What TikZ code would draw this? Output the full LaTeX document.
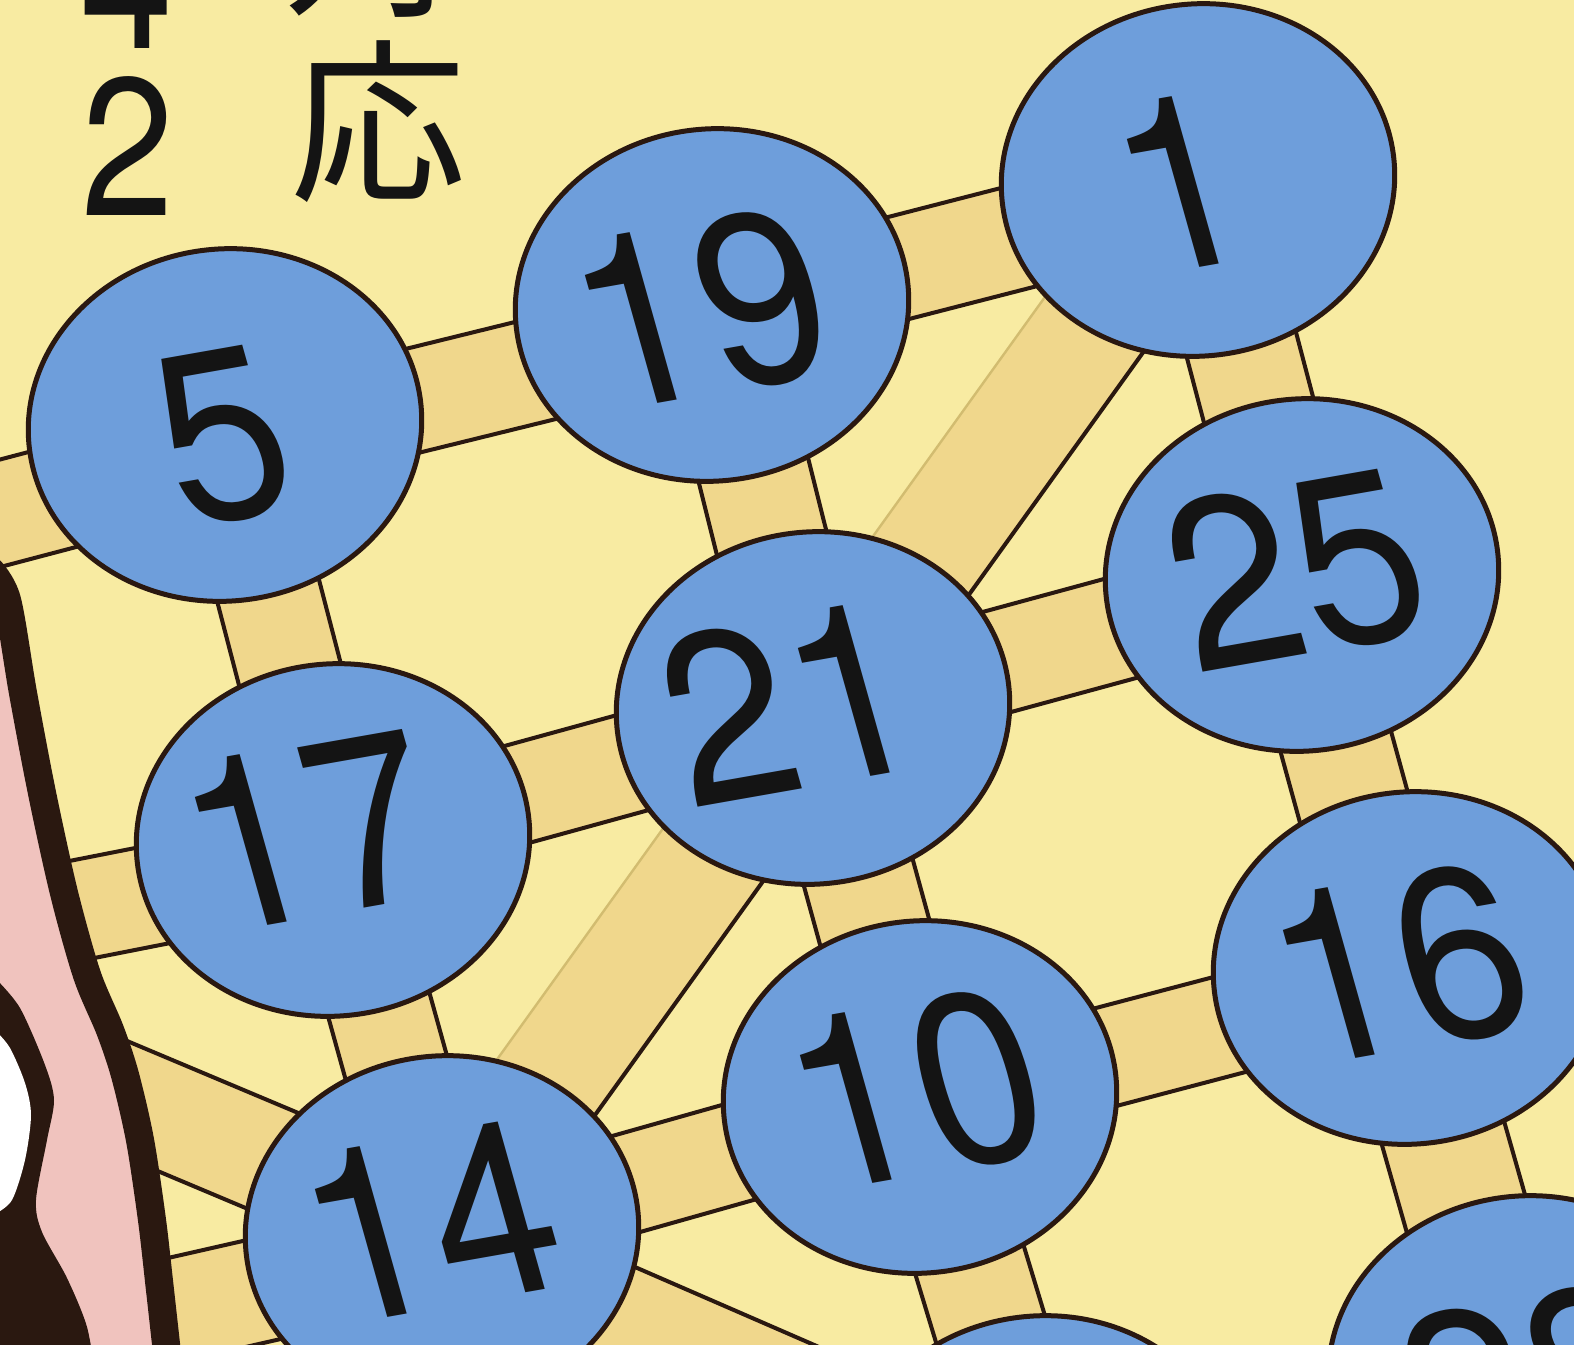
\documentclass[tikz,border=0pt]{standalone}
\usepackage{fontspec}
\newfontfamily\digitfont{TeX Gyre Heros}
\newfontfamily\jpfont{Noto Sans CJK JP}
\usetikzlibrary{calc,shapes.geometric}
\definecolor{bgyellow}{HTML}{F8EBA2}
\definecolor{bandbeige}{HTML}{F0D78C}
\definecolor{discblue}{HTML}{6E9EDB}
\definecolor{inkdark}{HTML}{2A1810}
\definecolor{pinkish}{HTML}{F0C3BE}
\definecolor{lightedge}{HTML}{D2BC70}
\tikzset{
  disc/.style={ellipse, fill=discblue, draw=inkdark, line width=2.5pt,
    minimum width=197pt, minimum height=176pt, inner sep=0pt, rotate=7},
  num/.style={font=\digitfont\fontsize{122}{122}\selectfont, text=black!92,
    inner sep=0pt, rotate=10, xslant=-0.1, xscale=0.92},
  bandfill/.style={fill=bandbeige},
  darkedge/.style={draw=inkdark, line width=2pt},
  paleedge/.style={draw=lightedge, line width=1.2pt},
  toptext/.style={font=\digitfont\fontsize{98}{98}\selectfont, text=black!92,
    inner sep=0pt, anchor=base, xscale=0.85},
  jptext/.style={font=\jpfont\fontsize{88}{88}\selectfont, text=black!92, inner sep=0pt},
}
% #1 shift, #2 from, #3 to, #4 half width, #5 edge style (right side), #6 edge style (left side)
\newcommand\band[6][0,0]{%
  \coordinate (ba) at ($(#2)+(#1)$);
  \coordinate (bb) at ($(#3)+(#1)$);
  \fill[bandfill] ($(ba)!#4!90:(bb)$) -- ($(bb)!#4!-90:(ba)$) --
       ($(bb)!#4!90:(ba)$) -- ($(ba)!#4!-90:(bb)$) -- cycle;
  \draw[#5] ($(ba)!#4!90:(bb)$) -- ($(bb)!#4!-90:(ba)$);
  \draw[#6] ($(bb)!#4!90:(ba)$) -- ($(ba)!#4!-90:(bb)$);
}
\begin{document}
\begin{tikzpicture}[x=0.5pt,y=-0.5pt]
\useasboundingbox (0,0) rectangle (1574,1344);
\clip (0,0) rectangle (1574,1344);
\fill[bgyellow] (-10,-10) rectangle (1584,1354);

% disc centres
\coordinate (p5) at (225,425);
\coordinate (p19) at (712,305);
\coordinate (p1) at (1198,180);
\coordinate (p25) at (1302,575);
\coordinate (p21) at (813,708);
\coordinate (p17) at (333,840);
\coordinate (p10) at (920,1097);
\coordinate (p16) at (1410,968);
\coordinate (p14) at (442,1232);
\coordinate (p28) at (1525,1372);
\coordinate (pB) at (1040,1492);
% free ends of paths leaving the picture
\coordinate (L5) at (-200,537);
\coordinate (L17) at (-200,945);
\coordinate (L14a) at (-200,962);
\coordinate (L14b) at (-200,1378);

% paths
\band[0,22]{p5}{p19}{26pt}{darkedge}{darkedge}
\band[0,11]{p19}{p1}{26pt}{darkedge}{darkedge}
\band{p5}{p17}{26pt}{darkedge}{darkedge}
\band{p19}{p21}{28pt}{darkedge}{darkedge}
\band{p1}{p25}{28pt}{darkedge}{darkedge}
\band{p1}{p14}{28pt}{darkedge}{paleedge}
\band[0,4]{p21}{p25}{26pt}{darkedge}{darkedge}
\band[0,5]{p17}{p21}{25pt}{darkedge}{darkedge}
\band[-12,0]{p25}{p16}{28pt}{darkedge}{darkedge}
\band{p17}{p14}{26pt}{darkedge}{darkedge}
\band{p21}{p10}{28pt}{darkedge}{darkedge}
\band[0,9]{p10}{p16}{25pt}{darkedge}{darkedge}
\band[0,4]{p14}{p10}{25pt}{darkedge}{darkedge}
\band{p10}{pB}{28pt}{darkedge}{darkedge}
\band[-14,0]{p16}{p28}{31pt}{darkedge}{darkedge}
\band[0,10]{p14}{pB}{27pt}{darkedge}{darkedge}
\band[0,29]{p5}{L5}{26pt}{darkedge}{darkedge}
\band[0,20]{p17}{L17}{25pt}{darkedge}{darkedge}
\band{p14}{L14a}{27pt}{darkedge}{darkedge}
\band[0,17]{p14}{L14b}{26pt}{darkedge}{darkedge}

% left border strip
\fill[pinkish] (-20,1380) -- (-20,560) -- plot[smooth] coordinates
  {(-10,570) (7,600) (23,693) (42,793) (64,893) (87,975) (110,1030) (125,1075) (140,1140) (152,1220) (160,1290) (170,1380)} -- cycle;
\fill[inkdark] (-20,970) -- plot[smooth] coordinates
  {(-5,978) (20,1008) (45,1065) (54,1100) (47,1140) (36,1200) (42,1232) (67,1278) (87,1327) (96,1380)} -- (-20,1380) -- cycle;
\fill[white] (-20,1030) -- plot[smooth] coordinates
  {(-5,1030) (10,1048) (25,1083) (31,1115) (25,1160) (12,1200) (-5,1214)} -- (-20,1214) -- cycle;
\draw[inkdark, line width=14pt] plot[smooth] coordinates
  {(-10,570) (7,600) (23,693) (42,793) (64,893) (87,975) (110,1030) (125,1075) (140,1140) (152,1220) (160,1290) (170,1380)};

% discs
\node[disc] (c5) at (p5) {};
\node[disc] (c19) at (p19) {};
\node[disc] (c1) at (p1) {};
\node[disc] (c25) at (p25) {};
\node[disc] (c21) at (p21) {};
\node[disc] (c17) at (p17) {};
\node[disc] (c10) at (p10) {};
\node[disc] (c16) at (p16) {};
\node[disc] (c14) at (p14) {};
\node[disc] (c28) at (p28) {};
\node[disc] (cB) at (pB) {};

% numbers
\node[num] (t5) at (222,437) {5};
\node[num] (t19) at (700,310) {19};
\node[num] (t1) at (1180,183) {1};
\node[num] (t21) at (790,703) {21};
\node[num] (t25) at (1295,570) {25};
\node[num] (t17) at (310,830) {17};
\node[num] (t10) at (915,1090) {10};
\node[num] (t16) at (1398,965) {16};
\node[num] (t14) at (430,1222) {14};
\node[num] (t28) at (1530,1385) {28};

% top-left text
\node[toptext] (a4) at (127,48) {4};
\node[toptext] (a2) at (128,215) {2};
\node[jptext, anchor=south] (j1) at (372,18) {対};
\node[jptext] (j2) at (378,122) {応};
\end{tikzpicture}
\end{document}
